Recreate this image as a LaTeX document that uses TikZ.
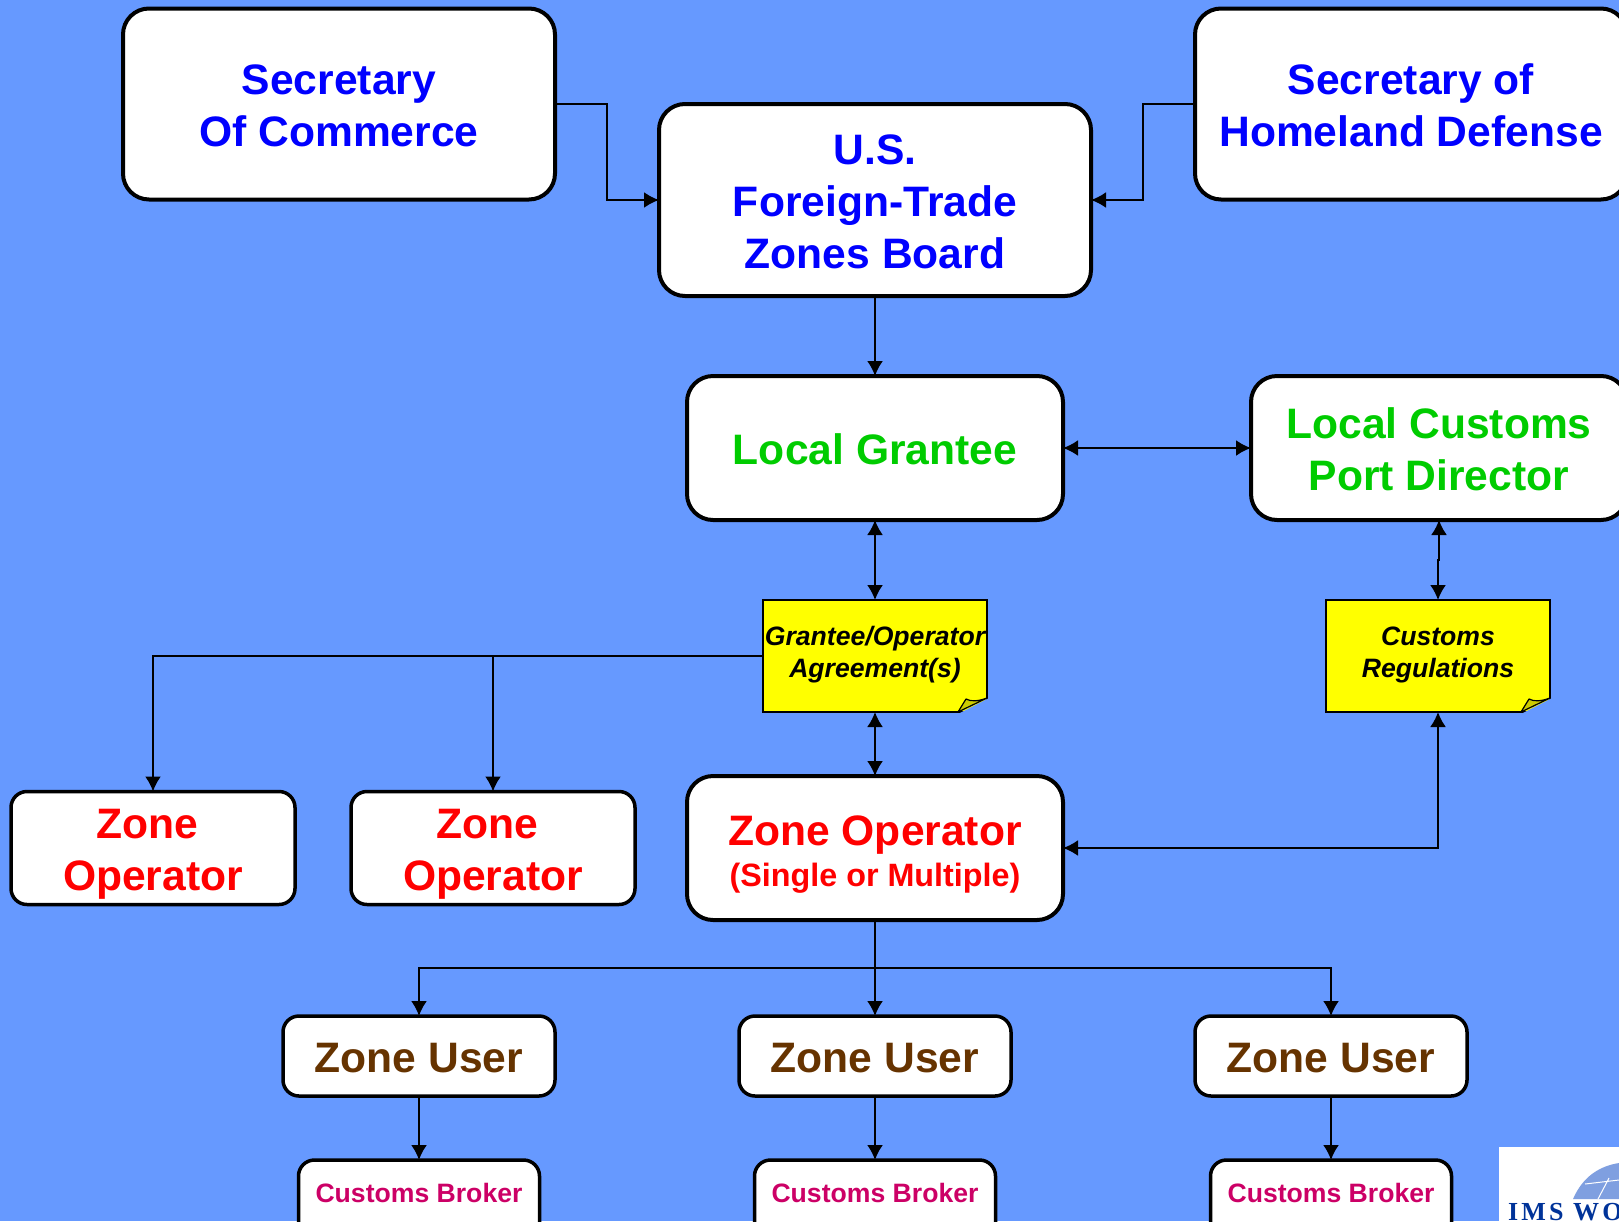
\documentclass[tikz,border=0pt]{standalone}
\usepackage{fontspec}
\setmainfont{Liberation Sans}
\newfontfamily\logofont[LetterSpace=12]{Liberation Serif}
\usetikzlibrary{arrows.meta}
\definecolor{slide}{HTML}{6699FF}
\definecolor{titleblue}{HTML}{0000FF}
\definecolor{grantgreen}{HTML}{00CC00}
\definecolor{zonered}{HTML}{FF0000}
\definecolor{userbrown}{HTML}{663300}
\definecolor{brokerpink}{HTML}{CC0066}
\definecolor{notefill}{HTML}{FFFF00}
\definecolor{foldgold}{HTML}{CCCC00}
\definecolor{logoblue}{HTML}{003399}
\definecolor{globeblue}{HTML}{7F9FE0}
\newcommand{\dropline}[1]{\rule{0pt}{#1}}
\tikzset{
    box/.style={draw, fill=white, line width=4pt, rounded corners=26pt, outer sep=0pt,
        inner sep=0pt, align=center, font=\fontsize{42.6}{52}\selectfont\bfseries},
    smallbox/.style={box, line width=3.5pt, rounded corners=16pt},
    brokerbox/.style={smallbox, text=brokerpink, minimum width=241pt, minimum height=80pt,
        text height=20pt, text depth=16pt, font=\fontsize{26.6}{32}\selectfont\bfseries},
    note/.style={draw, fill=notefill, line width=2.5pt, outer sep=0pt, inner sep=0pt,
        minimum width=224pt, minimum height=112pt, align=center,
        font=\fontsize{26.6}{32}\selectfont\bfseries\itshape,
        execute at end node={\rule[-7.6pt]{0pt}{7.6pt}}},
    link/.style={line width=2pt}
}
\begin{document}
\begin{tikzpicture}[x=1pt, y=-1pt, >={Latex[length=15pt,width=16pt]}]

        \useasboundingbox (0,0) rectangle (1619,1221);
        \clip (0,0) rectangle (1619,1221);
        \fill[slide] (0,0) rectangle (1619,1221);

        % nodes
        \node[box, text=titleblue, minimum width=432pt, minimum height=191pt] (commerce) at (339,104) {\dropline{33pt}Secretary\\Of Commerce};
        \node[box, text=titleblue, minimum width=432pt, minimum height=192pt] (board) at (875,200) {\dropline{34pt}U.S.\\Foreign-Trade\\Zones Board};
        \node[box, text=titleblue, minimum width=432pt, minimum height=191pt] (homeland) at (1411,104) {\dropline{33pt}Secretary of\\Homeland Defense};
        \node[box, text=grantgreen, minimum width=376pt, minimum height=144pt] (grantee) at (875,448) {\dropline{33pt}Local Grantee};
        \node[box, text=grantgreen, minimum width=376pt, minimum height=144pt] (port) at (1439,448) {\dropline{33pt}Local Customs\\Port Director};
        \node[note] (agreement) at (875,656) {Grantee/Operator\\Agreement(s)};
        \node[note] (regulations) at (1438,656) {Customs\\Regulations};
        \node[smallbox, text=zonered, minimum width=284pt, minimum height=113pt] (opleft) at (153,848) {\dropline{41.5pt}Zone\hspace*{11pt}\\Operator};
        \node[smallbox, text=zonered, minimum width=284pt, minimum height=113pt] (opmid) at (493,848) {\dropline{41.5pt}Zone\hspace*{11pt}\\Operator};
        \node[box, text=zonered, minimum width=376pt, minimum height=144pt] (operator) at (875,848) {\dropline{43pt}Zone Operator\\[-11pt]{\fontsize{32.3}{40}\selectfont(Single or Multiple)}};
        \node[smallbox, text=userbrown, minimum width=272pt, minimum height=80pt] (usera) at (419,1056) {\dropline{33pt}Zone User};
        \node[smallbox, text=userbrown, minimum width=272pt, minimum height=80pt] (userb) at (875,1056) {\dropline{33pt}Zone User};
        \node[smallbox, text=userbrown, minimum width=272pt, minimum height=80pt] (userc) at (1331,1056) {\dropline{33pt}Zone User};
        \node[brokerbox] (brokera) at (419,1200) {Customs Broker};
        \node[brokerbox] (brokerb) at (875,1200) {Customs Broker};
        \node[brokerbox] (brokerc) at (1331,1200) {Customs Broker};

        % folded note corners
        \foreach \corner in {agreement, regulations} {
            \begin{scope}[shift={(\corner.south east)}]
                \fill[slide] (-29,2) -- (2,-14) -- (2,2) -- cycle;
                \filldraw[fill=foldgold, line width=1.2pt, line join=round] (-29,0) -- (-21,-13) .. controls (-16,-10) and (-8,-11) .. (0,-14) -- cycle;
            \end{scope}
        }

        % logo
        \fill[white] (1499,1147) rectangle (1619,1221);
        \fill[globeblue] (1573,1199) .. controls (1583,1176) and (1600,1166) .. (1619,1163) -- (1619,1199) -- cycle;
        \draw[white, line width=1pt] (1585,1184) -- (1619,1180) (1598,1199) -- (1609,1178);
        \node[anchor=base west, inner sep=0pt, text=logoblue, font=\fontsize{26}{32}\logofont\bfseries] (logo) at (1508,1220) {IMS WO};

        % edges to the board
        \draw[->, link] (commerce.east) -- ++(52,0) |- (board.west);
        \draw[->, link] (homeland.west) -- ++(-52,0) |- (board.east);
        \draw[->, link] (board.south) -- (grantee.north);

        % edges between grantee, port and notes
        \draw[<->, link] (grantee.east) -- (port.west);
        \draw[<->, link] (grantee.south) -- (agreement.north);
        \draw[<->, link] (port.south) -- ++(0,40) -| (regulations.north);
        \draw[<->, link] (agreement.south) -- (operator.north);
        \draw[<->, link] (operator.east) -| (regulations.south);

        % edges to the other operators
        \draw[->, link] (agreement.west) -| (opleft.north);
        \draw[->, link] (agreement.west) -| (opmid.north);

        % edges to users
        \draw[->, link] (operator.south) -- ++(0,48) -| (usera.north);
        \draw[->, link] (operator.south) -- (userb.north);
        \draw[->, link] (operator.south) -- ++(0,48) -| (userc.north);

        % edges to brokers
        \draw[->, link] (usera.south) -- (brokera.north);
        \draw[->, link] (userb.south) -- (brokerb.north);
        \draw[->, link] (userc.south) -- (brokerc.north);

\end{tikzpicture}
\end{document}
